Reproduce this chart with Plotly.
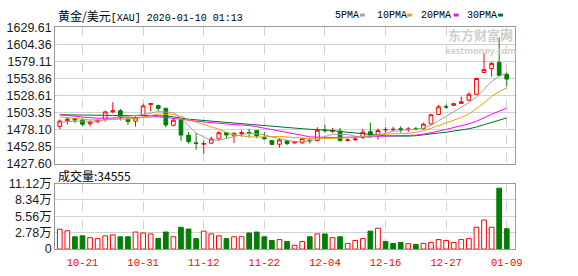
import plotly.graph_objects as go

W, H = 578, 276

# ---------------- data ----------------
bar_idx = list(range(60))
tick_idx = [3, 11, 19, 27, 35, 43, 51, 59]
tick_labels = ["10-21", "10-31", "11-12", "11-22", "12-04", "12-16", "12-27", "01-09"]

opens = [1483.3, 1491.7, 1495.0, 1492.8, 1487.1, 1490.0, 1494.0, 1505.0, 1506.5, 1494.0,
         1491.0, 1500.5, 1515.5, 1514.0, 1510.0, 1485.0, 1492.5, 1470.3, 1459.0, 1457.0,
         1458.6, 1464.7, 1474.0, 1469.3, 1472.8, 1474.5, 1477.2, 1467.0, 1462.3, 1457.0,
         1462.0, 1459.0, 1459.0, 1463.0, 1462.3, 1478.0, 1476.0, 1476.3, 1462.5, 1463.5,
         1467.0, 1475.4, 1470.5, 1478.0, 1478.5, 1479.8, 1478.5, 1480.0, 1480.0, 1487.0,
         1501.0, 1512.6, 1514.5, 1517.3, 1522.0, 1530.8, 1563.0, 1568.6, 1577.9, 1560.2]
highs = [1493.6, 1497.3, 1495.9, 1495.0, 1491.7, 1494.0, 1506.6, 1519.0, 1509.0, 1496.0,
         1498.0, 1517.0, 1518.0, 1515.5, 1511.0, 1494.5, 1495.0, 1475.0, 1474.0, 1462.0,
         1468.0, 1476.4, 1475.0, 1475.0, 1477.7, 1480.0, 1478.0, 1475.0, 1463.0, 1464.7,
         1463.3, 1462.0, 1467.0, 1465.6, 1482.3, 1485.6, 1481.0, 1481.0, 1465.6, 1469.3,
         1479.6, 1489.0, 1480.0, 1482.4, 1483.0, 1483.4, 1482.4, 1482.4, 1488.9, 1502.0,
         1515.0, 1515.9, 1518.3, 1527.6, 1533.6, 1555.5, 1591.4, 1578.8, 1614.7, 1563.5]
lows = [1479.1, 1486.1, 1488.0, 1483.5, 1483.3, 1488.0, 1490.3, 1502.5, 1492.0, 1485.5,
        1483.0, 1499.0, 1505.5, 1506.5, 1482.0, 1483.5, 1462.0, 1457.7, 1449.0, 1443.0,
        1457.7, 1462.0, 1464.7, 1458.6, 1468.0, 1467.0, 1465.8, 1464.0, 1456.0, 1452.0,
        1455.6, 1457.5, 1457.7, 1458.0, 1461.0, 1474.0, 1474.0, 1461.0, 1461.0, 1462.3,
        1464.7, 1469.3, 1464.0, 1474.0, 1476.0, 1474.0, 1475.0, 1477.7, 1478.6, 1485.6,
        1499.6, 1508.9, 1513.6, 1516.9, 1520.6, 1529.9, 1563.0, 1556.9, 1556.9, 1542.4]
closes = [1491.2, 1494.0, 1492.6, 1486.5, 1489.8, 1492.0, 1504.7, 1506.5, 1497.0, 1490.5,
          1496.0, 1513.5, 1517.0, 1510.0, 1485.5, 1492.5, 1470.5, 1461.0, 1458.0, 1458.0,
          1464.7, 1474.0, 1470.7, 1473.0, 1474.0, 1473.5, 1469.3, 1465.0, 1456.7, 1463.3,
          1458.0, 1460.5, 1465.6, 1462.0, 1477.7, 1477.0, 1477.0, 1462.3, 1463.3, 1464.7,
          1475.0, 1470.3, 1477.3, 1478.8, 1479.0, 1479.0, 1479.5, 1479.3, 1486.6, 1500.5,
          1512.2, 1512.0, 1516.9, 1519.7, 1530.8, 1554.1, 1567.2, 1576.5, 1558.8, 1553.2]

volumes = [33700, 31000, 20900, 22500, 19300, 17700, 22500, 24100, 20900, 20900,
           28900, 27300, 25700, 18200, 28900, 20900, 37000, 34000, 17700, 30500,
           25700, 22500, 17700, 20900, 20900, 27300, 28900, 20900, 14500, 16100,
           12900, 6400, 12900, 20900, 25700, 25700, 19300, 20900, 9600, 14500,
           17700, 30500, 35400, 12900, 9600, 11200, 9100, 8000, 9600, 11200,
           16100, 14500, 11200, 16100, 17700, 37000, 49300, 37000, 103400, 34555]
vol_up = [1, 1, 0, 0, 1, 1, 1, 1, 0, 0,
          1, 1, 1, 0, 0, 1, 0, 0, 0, 1,
          1, 1, 0, 1, 1, 0, 0, 0, 0, 1,
          0, 1, 1, 0, 1, 0, 1, 0, 1, 1,
          1, 0, 1, 0, 0, 0, 1, 0, 1, 1,
          1, 1, 1, 1, 1, 1, 1, 1, 0, 0]

# moving-average values at the start of the window (read from the picture,
# the history before the first bar is not shown)
ma5_start = [1489.5, 1490.5, 1491.0, 1491.0]
ma10_start = [1497.5, 1496.0, 1495.0, 1494.0, 1493.0, 1492.5, 1493.0, 1493.5, 1494.0]
ma20_start = [1500.5, 1500.0, 1498.5, 1497.0, 1496.0, 1495.5, 1495.5, 1495.5, 1495.5, 1495.5,
              1496.0, 1497.0, 1497.5, 1497.5, 1496.5, 1495.5, 1494.0, 1492.5, 1491.0]
ma30_start = [1500.5, 1500.5, 1500.3, 1500.0, 1499.8, 1499.5, 1499.5, 1499.5, 1499.3, 1499.0,
              1499.0, 1499.3, 1499.5, 1499.3, 1498.5, 1497.5, 1495.5, 1494.0, 1493.0, 1492.0,
              1491.3, 1490.5, 1489.5, 1488.5, 1487.5, 1486.5, 1485.8, 1485.0, 1484.0]

price_ticks = [1427.60, 1452.85, 1478.10, 1503.35, 1528.61, 1553.86, 1579.11, 1604.36, 1629.61]
vol_ticks = [0, 27800, 55600, 83400, 111200]
vol_tick_text = ["0", "2.78万", "5.56万", "8.34万", "11.12万"]


def moving_avg(start, n):
    out = list(start)
    for i in range(len(start), len(closes)):
        out.append(sum(closes[i - n + 1:i + 1]) / n)
    return out


ma5 = moving_avg(ma5_start, 5)
ma10 = moving_avg(ma10_start, 10)
ma20 = moving_avg(ma20_start, 20)
ma30 = moving_avg(ma30_start, 30)

# ---------------- styling ----------------
RED = "#ff0000"
GREEN = "#008000"
C5, C10, C20, C30 = "#a0a0a0", "#f0a000", "#ff00ff", "#006f2e"
FRAME = "#999999"
GRID = "#d2d2d2"

xl, xr = 56 / W, 522 / W
main_dom = [1 - 165.5 / H, 1 - 21.5 / H]
vol_dom = [1 - 255 / H, 1 - 186 / H]

fig = go.Figure()

fig.add_trace(go.Candlestick(
    x=bar_idx, open=opens, high=highs, low=lows, close=closes,
    xaxis="x", yaxis="y", whiskerwidth=0,
    increasing=dict(line=dict(color=RED, width=1), fillcolor="#ffffff"),
    decreasing=dict(line=dict(color=GREEN, width=1), fillcolor=GREEN),
    hoverinfo="skip", showlegend=False))

for vals, col in [(ma30, C30), (ma20, C20), (ma10, C10), (ma5, C5)]:
    fig.add_trace(go.Scatter(x=bar_idx, y=vals, mode="lines", xaxis="x", yaxis="y",
                             line=dict(color=col, width=1), hoverinfo="skip",
                             showlegend=False))

fig.add_trace(go.Bar(
    x=bar_idx, y=volumes, xaxis="x2", yaxis="y2", width=0.62,
    marker=dict(color=["#ffffff" if u else GREEN for u in vol_up],
                line=dict(color=[RED if u else GREEN for u in vol_up], width=1)),
    hoverinfo="skip", showlegend=False))

axis_common = dict(showline=True, mirror=True, linecolor=FRAME, linewidth=1,
                   zeroline=False, fixedrange=True)

fig.update_layout(
    width=W, height=H, margin=dict(l=0, r=0, t=0, b=0),
    paper_bgcolor="#ffffff", plot_bgcolor="#ffffff",
    xaxis=dict(domain=[xl, xr], range=[-0.6, 60.06], anchor="y",
               tickvals=tick_idx, showticklabels=False, ticks="",
               showgrid=True, gridcolor=GRID, griddash="dash", gridwidth=1,
               rangeslider=dict(visible=False), **axis_common),
    xaxis2=dict(domain=[xl, xr], range=[-0.6, 60.06], anchor="y2", matches="x",
                tickvals=tick_idx, ticktext=tick_labels, ticks="outside",
                ticklen=3, tickcolor="rgba(0,0,0,0)",
                tickfont=dict(family="Liberation Mono", size=10.5, color=RED),
                showgrid=True, gridcolor=GRID, griddash="dash", gridwidth=1,
                **axis_common),
    yaxis=dict(domain=main_dom, range=[price_ticks[0], price_ticks[-1]], anchor="x",
               tickvals=price_ticks, ticktext=[f"{v:.2f}" for v in price_ticks],
               tickfont=dict(family="Liberation Sans", size=12.5, color="#1a1a1a"),
               ticks="", showgrid=True, gridcolor=GRID, gridwidth=1,
               **axis_common),
    yaxis2=dict(domain=vol_dom, range=[0, vol_ticks[-1]], anchor="x2",
                tickvals=vol_ticks, ticktext=vol_tick_text,
                tickfont=dict(family="Liberation Sans, Noto Sans CJK SC", size=12.5,
                              color="#1a1a2e"),
                ticks="", showgrid=True, gridcolor=GRID, gridwidth=1,
                **axis_common),
    font=dict(family="Noto Sans CJK SC"),
)

ann = []
ann.append(dict(
    x=57 / W, y=1 - 8.5 / H, xref="paper", yref="paper", xanchor="left", yanchor="middle",
    showarrow=False,
    text=('<span style="font-family:Noto Sans CJK SC;font-size:12px">黄金/美元</span>'
          '<span style="font-family:Liberation Mono;font-size:10px">[XAU] 2020-01-10 01:13</span>'),
    font=dict(color="#000000", size=12)))

legend_items = [("5PMA", 338, 365, C5), ("10PMA", 380, 413, C10),
                ("20PMA", 425, 460, C20), ("30PMA", 472, 505, C30)]
shapes = []
for name, tx, sx, col in legend_items:
    ann.append(dict(x=tx / W, y=1 - 8.5 / H, xref="paper", yref="paper",
                    xanchor="left", yanchor="middle", showarrow=False, text=name,
                    font=dict(family="Liberation Mono", size=10, color="#000000")))
    shapes.append(dict(type="rect", xref="paper", yref="paper",
                       x0=sx / W, x1=(sx + 5) / W, y0=1 - 10 / H, y1=1 - 7 / H,
                       fillcolor=col, line=dict(width=0)))

ann.append(dict(x=57 / W, y=1 - 177 / H, xref="paper", yref="paper",
                xanchor="left", yanchor="middle", showarrow=False,
                text="成交量:34555",
                font=dict(family="Noto Sans CJK SC", size=12, color="#000000")))

# watermark
ann.append(dict(x=487 / W, y=1 - 29 / H, xref="paper", yref="paper",
                xanchor="center", yanchor="middle", showarrow=False, borderpad=0,
                text="<b>东方财富网</b>",
                font=dict(family="Noto Sans CJK SC", size=13, color="#cfcfcf")))
ann.append(dict(x=487 / W, y=1 - 46 / H, xref="paper", yref="paper",
                xanchor="center", yanchor="middle", showarrow=False, borderpad=0,
                text="<b>eastmoney.com</b>",
                font=dict(family="Noto Sans", size=9, color="#cfcfcf")))

fig.update_layout(annotations=ann, shapes=shapes)

fig.write_html("out.html")
